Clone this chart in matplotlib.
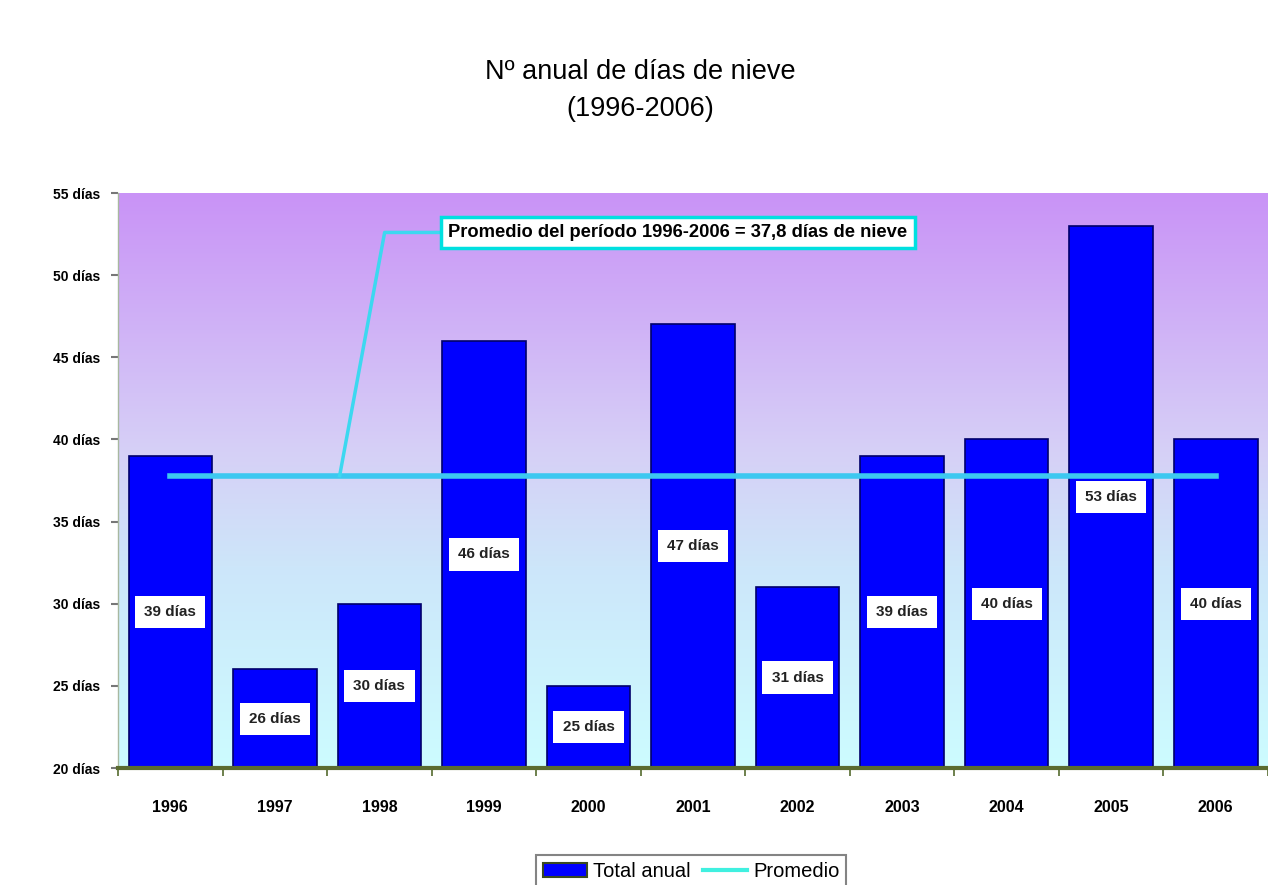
import numpy as np
import matplotlib.pyplot as plt
from matplotlib.colors import LinearSegmentedColormap
from matplotlib.patches import Patch
from matplotlib.lines import Line2D

plt.rcParams["font.family"] = ["Liberation Sans", "DejaVu Sans"]

years = ["1996", "1997", "1998", "1999", "2000", "2001", "2002", "2003", "2004", "2005", "2006"]
dias = [39, 26, 30, 46, 25, 47, 31, 39, 40, 53, 40]
yticks = [20, 25, 30, 35, 40, 45, 50, 55]
promedio = round(sum(dias) / len(dias), 1)

fig = plt.figure(figsize=(12.68, 8.85), dpi=100)
ax = fig.add_axes([0.0931, 0.1322, 0.9069, 0.6497])

x = np.arange(len(years))
ax.set_xlim(-0.5, len(years) - 0.5)
ax.set_ylim(20, 55)

# degradado de fondo
cmap = LinearSegmentedColormap.from_list(
    "fondo", [(0, "#ccfcff"), (0.35, "#cde6fa"), (0.55, "#d6d0f6"), (1, "#c993f7")])
grad = np.linspace(0, 1, 256).reshape(-1, 1)
ax.imshow(grad, aspect="auto", cmap=cmap, origin="lower",
          extent=[-0.5, len(years) - 0.5, 20, 55], zorder=0)

ax.bar(x, [d - 20 for d in dias], bottom=20, width=0.8, color="#0000ff",
       edgecolor="#00006a", linewidth=1.2, zorder=2)

for xi, d in zip(x, dias):
    ax.text(xi, (20 + d) / 2, f"{d} días", ha="center", va="center",
            fontsize=11, fontweight="bold", color="#222222", zorder=4,
            bbox=dict(boxstyle="square,pad=0.6", facecolor="white", edgecolor="none"))

ax.plot([x[0], x[-1]], [promedio, promedio], color="#3cc8f0", linewidth=4, zorder=3)

# nota del promedio
ax.plot([1.62, 2.05, 2.66], [promedio, 52.6, 52.6], color="#3cd8f0", linewidth=2.5, zorder=3)
ax.text(2.66, 52.6, f"Promedio del período 1996-2006 = {str(promedio).replace('.', ',')} días de nieve",
        ha="left", va="center", fontsize=13.2, fontweight="bold", color="black", zorder=5,
        bbox=dict(boxstyle="square,pad=0.4", facecolor="white", edgecolor="#00e0e0", linewidth=2.5))

ax.set_yticks(yticks)
ax.set_yticklabels([f"{t} días" for t in yticks], fontsize=10, fontweight="bold")
ax.tick_params(axis="y", length=5, width=1.5, color="#777777", pad=8)

ax.set_xticks(x)
ax.set_xticklabels(years, fontsize=11.5, fontweight="bold")
ax.set_xticks(np.arange(-0.5, len(years), 1), minor=True)
ax.tick_params(axis="x", which="major", length=0, pad=23)
ax.tick_params(axis="x", which="minor", length=6, width=1.2, color="#556b2f")

for s in ["top", "right"]:
    ax.spines[s].set_visible(False)
ax.spines["left"].set_color("#a8b8a0")
ax.spines["left"].set_linewidth(1)
ax.spines["bottom"].set_color("#5a6b30")
ax.spines["bottom"].set_linewidth(3)

fig.text(0.505, 0.933, "Nº anual de días de nieve\n(1996-2006)", ha="center", va="top",
         fontsize=19.5, linespacing=1.55)

handles = [Patch(facecolor="#0000ff", edgecolor="#3a4a20", linewidth=1.5),
           Line2D([], [], color="#40f0e0", linewidth=3)]
leg = fig.legend(handles, ["Total anual", "Promedio"], loc="upper center",
                 bbox_to_anchor=(0.545, 0.045), ncol=2, fontsize=14.5, frameon=True,
                 fancybox=False, edgecolor="#666666", handlelength=2.2,
                 columnspacing=0.6, handletextpad=0.3, borderpad=0.35)
leg.get_frame().set_linewidth(1.5)

fig.savefig("out.png", dpi=100)
